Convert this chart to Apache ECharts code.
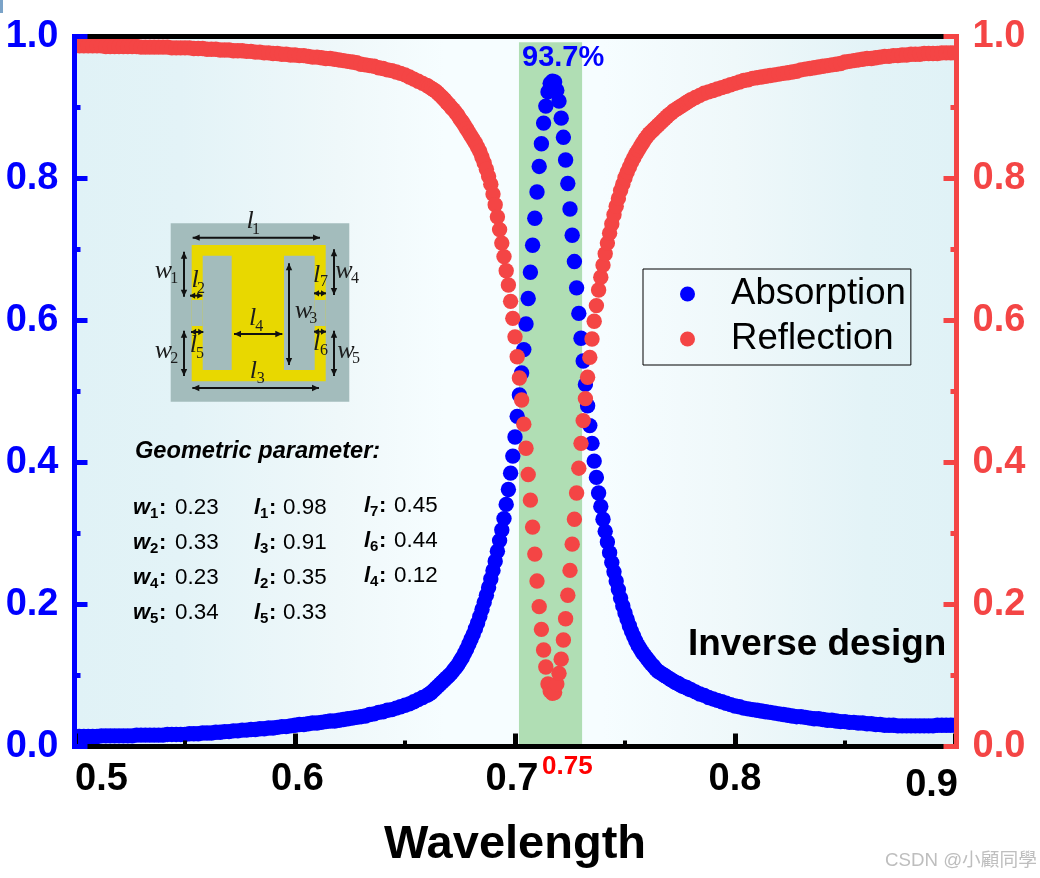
<!DOCTYPE html>
<html>
<head>
<meta charset="utf-8">
<title>Inverse design spectrum</title>
<script src="https://cdn.jsdelivr.net/npm/echarts@6/dist/echarts.min.js"></script>
<style>html,body{margin:0;padding:0;background:#fff}#c{width:1040px;height:878px}</style>
</head>
<body>
<div id="c"></div>
<script>
const wavelengths = [
0.500,0.502,0.504,0.506,0.508,0.510,0.512,0.514,0.516,0.518,
0.520,0.522,0.524,0.526,0.528,0.530,0.532,0.534,0.536,0.538,
0.540,0.542,0.544,0.546,0.548,0.550,0.552,0.554,0.556,0.558,
0.560,0.562,0.564,0.566,0.568,0.570,0.572,0.574,0.576,0.578,
0.580,0.582,0.584,0.586,0.588,0.590,0.592,0.594,0.596,0.598,
0.600,0.602,0.604,0.606,0.608,0.610,0.612,0.614,0.616,0.618,
0.620,0.622,0.624,0.626,0.628,0.630,0.632,0.634,0.636,0.638,
0.640,0.642,0.644,0.646,0.648,0.650,0.652,0.654,0.656,0.658,
0.660,0.661,0.662,0.663,0.664,0.665,0.666,0.667,0.668,0.669,
0.670,0.671,0.672,0.673,0.674,0.675,0.676,0.677,0.678,0.679,
0.680,0.681,0.682,0.683,0.684,0.685,0.686,0.687,0.688,0.689,
0.690,0.691,0.692,0.693,0.694,0.695,0.696,0.697,0.698,0.699,
0.700,0.701,0.702,0.703,0.704,0.705,0.706,0.707,0.708,0.709,
0.710,0.711,0.712,0.713,0.714,0.715,0.716,0.717,0.718,0.719,
0.720,0.721,0.722,0.723,0.724,0.725,0.726,0.727,0.728,0.729,
0.730,0.731,0.732,0.733,0.734,0.735,0.736,0.737,0.738,0.739,
0.740,0.741,0.742,0.743,0.744,0.745,0.746,0.747,0.748,0.749,
0.750,0.751,0.752,0.753,0.754,0.755,0.756,0.757,0.758,0.759,
0.760,0.761,0.762,0.763,0.764,0.765,0.766,0.767,0.768,0.769,
0.770,0.771,0.772,0.773,0.774,0.775,0.776,0.777,0.778,0.779,
0.780,0.782,0.784,0.786,0.788,0.790,0.792,0.794,0.796,0.798,
0.800,0.802,0.804,0.806,0.808,0.810,0.812,0.814,0.816,0.818,
0.820,0.822,0.824,0.826,0.828,0.830,0.832,0.834,0.836,0.838,
0.840,0.842,0.844,0.846,0.848,0.850,0.852,0.854,0.856,0.858,
0.860,0.862,0.864,0.866,0.868,0.870,0.872,0.874,0.876,0.878,
0.880,0.882,0.884,0.886,0.888,0.890,0.892,0.894,0.896,0.898,
0.900];

const absorption = [
.014,.014,.014,.014,.014,.014,.015,.015,.015,.015,
.015,.015,.015,.015,.016,.016,.016,.016,.016,.016,
.016,.017,.017,.017,.017,.017,.018,.018,.018,.019,
.019,.019,.020,.020,.021,.021,.022,.022,.023,.023,
.024,.024,.025,.025,.026,.026,.027,.028,.028,.029,
.030,.031,.031,.032,.033,.033,.034,.035,.036,.036,
.037,.038,.039,.040,.041,.042,.043,.045,.046,.048,
.049,.051,.052,.054,.056,.058,.060,.063,.066,.069,
.072,.074,.076,.079,.082,.085,.088,.091,.094,.097,
.100,.103,.107,.111,.115,.120,.125,.131,.137,.144,
.151,.158,.166,.174,.183,.193,.203,.213,.224,.236,
.248,.261,.275,.290,.305,.321,.341,.362,.385,.409,
.436,.465,.495,.526,.559,.595,.631,.668,.706,.744,
.781,.817,.849,.878,.902,.922,.934,.937,.936,.924,
.909,.885,.858,.826,.793,.757,.720,.683,.646,.610,
.575,.543,.510,.480,.452,.427,.402,.379,.357,.338,
.320,.303,.288,.273,.259,.246,.233,.221,.209,.198,
.188,.179,.170,.162,.155,.148,.142,.137,.132,.128,
.124,.120,.116,.113,.109,.106,.104,.102,.100,.098,
.096,.094,.092,.090,.089,.087,.085,.084,.083,.081,
.080,.077,.074,.072,.069,.067,.065,.063,.061,.059,
.057,.056,.054,.053,.052,.051,.050,.049,.048,.047,
.046,.045,.044,.043,.042,.042,.041,.040,.039,.039,
.038,.037,.037,.036,.035,.035,.034,.034,.033,.033,
.032,.032,.031,.031,.030,.030,.030,.029,.029,.029,
.029,.029,.029,.029,.029,.029,.030,.030,.030,.030,
.030];

const reflection = [
.987,.987,.987,.987,.987,.987,.987,.986,.986,.986,
.986,.986,.986,.986,.986,.985,.985,.985,.985,.985,
.985,.985,.984,.984,.984,.984,.984,.983,.983,.983,
.982,.982,.982,.981,.981,.981,.980,.980,.980,.979,
.979,.978,.978,.977,.977,.976,.976,.975,.975,.974,
.974,.973,.973,.972,.971,.971,.970,.969,.969,.968,
.967,.966,.965,.964,.963,.961,.960,.959,.958,.956,
.955,.953,.952,.950,.948,.946,.943,.940,.937,.934,
.931,.929,.927,.925,.923,.920,.917,.914,.911,.907,
.904,.900,.897,.893,.889,.884,.880,.875,.870,.865,
.860,.855,.850,.844,.838,.830,.822,.813,.803,.792,
.778,.763,.746,.728,.709,.690,.670,.650,.627,.603,
.577,.549,.519,.488,.454,.420,.383,.347,.309,.271,
.233,.197,.165,.136,.112,.088,.078,.075,.076,.088,
.103,.123,.150,.180,.213,.248,.285,.320,.357,.392,
.427,.459,.490,.520,.548,.574,.599,.621,.643,.661,
.678,.694,.709,.723,.736,.749,.761,.772,.783,.792,
.801,.809,.816,.823,.829,.835,.840,.845,.850,.855,
.859,.863,.866,.869,.872,.875,.878,.881,.884,.887,
.890,.892,.895,.897,.899,.901,.903,.905,.907,.909,
.911,.914,.917,.920,.922,.924,.926,.928,.930,.932,
.934,.936,.938,.939,.941,.942,.943,.944,.945,.946,
.947,.948,.949,.950,.951,.953,.954,.955,.956,.957,
.958,.959,.960,.961,.962,.964,.965,.966,.967,.968,
.969,.969,.970,.971,.972,.972,.973,.973,.974,.974,
.975,.975,.975,.976,.976,.976,.976,.977,.977,.977,
.977];

const bandRange = [0.7018, 0.7305];
const bandTop = 0.992;
const seriesNames = ['Absorption', 'Reflection'];
const paramHeading = 'Geometric parameter:';
const paramCol1 = [['w','1','0.23'],['w','2','0.33'],['w','4','0.23'],['w','5','0.34']];
const paramCol2 = [['l','1','0.98'],['l','3','0.91'],['l','2','0.35'],['l','5','0.33']];
const paramCol3 = [['l','7','0.45'],['l','6','0.44'],['l','4','0.12']];

const BLUE = '#0000FF', RED = '#F44545', SANS = '"Liberation Sans", Arial, sans-serif';
const SERIF = '"Liberation Serif", serif';
const Z = 20;

function T(x, y, text, size, opt) {
  opt = opt || {};
  return {type:'text', z:Z, x:x, y:y, silent:true, style:{
    text:text, fontSize:size, fontFamily:opt.family||SANS, fontWeight:opt.weight||'normal',
    fontStyle:opt.italic?'italic':'normal', fill:opt.color||'#000',
    align:opt.align||'left', verticalAlign:'middle'}};
}
function R(x, y, w, h, c) { return {type:'rect', z:Z, silent:true, shape:{x,y,width:w,height:h}, style:{fill:c}}; }
function zx(v){return 120+v/3;}
function zy(v){return 210+v/3;}
function arrow(x1,y1,x2,y2){
  x1=zx(x1);x2=zx(x2);y1=zy(y1);y2=zy(y2);
  const L=Math.hypot(x2-x1,y2-y1),ux=(x2-x1)/L,uy=(y2-y1)/L,h=Math.min(7,L/2.4),w=3.2;
  const tri=(px,py,dx,dy)=>({type:'polygon',z:Z,silent:true,shape:{points:[[px,py],[px-dx*h-dy*w,py-dy*h+dx*w],[px-dx*h+dy*w,py-dy*h-dx*w]]},style:{fill:'#111'}});
  return [
    {type:'line',z:Z,silent:true,shape:{x1,y1,x2,y2},style:{stroke:'#111',lineWidth:2}},
    tri(x2,y2,ux,uy), tri(x1,y1,-ux,-uy)
  ];
}
function sym(sym,sub,x,y,sx,sy){
  return [
    T(zx(x),zy(y),sym,26,{family:SERIF,italic:true,align:'center',color:'#1c1c1c'}),
    T(zx(sx),zy(sy),sub,16,{family:SERIF,align:'center',color:'#1c1c1c'})
  ];
}

const graphics = [].concat(
  [R(0,0,3,13,'#7BA3C8')],
  [T(522,58,'93.7%',29,{weight:'bold',color:BLUE}),
   T(542,767,'0.75',26,{weight:'bold',color:'#FF0000'}),
   T(688,645,'Inverse design',36.9,{weight:'bold'}),
   T(885,861,'CSDN @小顧同學',18.7,{family:'"Liberation Sans","Noto Sans CJK TC", sans-serif',color:'#BEBEBE'})],
  [R(170.7,223.3,178.6,178.4,'#A3BCBC'),
   R(191.7,245,134,136.3,'#E8D800'),
   R(202.7,255.7,29,114.3,'#A3BCBC'),
   R(284,255.7,30.7,114.3,'#A3BCBC'),
   R(191.7,300,11,26,'#A3BCBC'),
   R(314.7,300,11,26,'#A3BCBC')],
  arrow(218,83,600,83), arrow(192,125,192,260), arrow(192,362,192,498),
  arrow(642,118,642,255), arrow(642,362,642,498), arrow(507,160,507,465),
  arrow(210,257,247,257), arrow(582,250,618,250), arrow(213,366,250,366),
  arrow(582,365,618,365), arrow(342,372,487,372), arrow(217,534,597,534),
  sym('l','1',390,35,408,60), sym('w','1',130,185,163,207), sym('l','2',225,210,243,235),
  sym('l','7',590,197,612,215), sym('w','4',672,185,705,205), sym('w','3',550,305,580,325),
  sym('l','4',398,325,418,350), sym('w','2',130,425,163,447), sym('l','5',220,405,240,430),
  sym('l','6',590,400,612,422), sym('w','5',678,425,708,445), sym('l','3',400,485,422,507),
  [T(135,451,paramHeading,23.6,{weight:'bold',italic:true})]
);
function paramRows(rows, x, y0, valueX, subX, colonX){
  rows.forEach((r,i)=>{
    const y=y0+i*35;
    graphics.push(T(x,y,r[0],22,{weight:'bold',italic:true}));
    graphics.push(T(x+subX,y+6,r[1],15,{weight:'bold'}));
    graphics.push(T(x+colonX,y,':',22,{weight:'bold'}));
    graphics.push(T(valueX,y,r[2],22.4));
  });
}
paramRows(paramCol1,133,508,175,17,26);
paramRows(paramCol2,254,508,283,6,15);
paramRows(paramCol3,364,506,394,6,15);

const chart = echarts.init(document.getElementById('c'), null, {renderer:'canvas'});
const pts = ys => wavelengths.map((w,i)=>[w,ys[i]]);
const dot = color => (params, api) => {
  const c = api.coord([api.value(0), api.value(1)]);
  return {type:'circle', shape:{cx:c[0], cy:c[1], r:7.7}, style:{fill:color}};
};
const yCommon = (c, extra) => Object.assign({
  type:'value', min:0, max:1, interval:0.2, z:6,
  axisLine:{show:true,onZero:false,lineStyle:{color:c,width:5,cap:'square'}},
  axisTick:{show:true,inside:true,length:13,lineStyle:{color:c,width:5}},
  minorTick:{show:true,splitNumber:2,length:6,lineStyle:{color:c,width:5}},
  splitLine:{show:false}, minorSplitLine:{show:false},
  axisLabel:{color:c,fontSize:38,fontWeight:'bold',fontFamily:SANS,margin:16,formatter:v=>v.toFixed(1),showMinLabel:true,showMaxLabel:true}
}, extra);
chart.setOption({
  animation:false,
  backgroundColor:'#fff',
  grid:{left:75,right:85,top:36.5,bottom:131.5,show:true,borderWidth:0,
    backgroundColor:{type:'linear',x:0,y:0,x2:1,y2:0,colorStops:[
      {offset:0,color:'#E0F2F6'},{offset:0.12,color:'#E3F3F7'},{offset:0.3,color:'#EFF8FA'},
      {offset:0.42,color:'#F6FDFF'},{offset:0.6,color:'#F6FDFF'},{offset:0.75,color:'#EFF8FA'},
      {offset:0.9,color:'#E3F3F7'},{offset:1,color:'#E0F2F6'}]}},
  legend:{
    show:true, orient:'vertical', left:643, top:269,
    borderColor:'#000', borderWidth:1, padding:[4,5,5,37], itemGap:3,
    itemWidth:15, itemHeight:15, icon:'circle', backgroundColor:'transparent',
    align:'left',
    data:seriesNames,
    textStyle:{fontSize:36.6,fontFamily:SANS,color:'#000',padding:[6,0,0,31],lineHeight:36}
  },
  xAxis:[{
    type:'value', position:'bottom', min:0.5, max:0.9, interval:0.1, z:5,
    name:'Wavelength', nameLocation:'middle', nameGap:75,
    nameTextStyle:{fontSize:47,fontWeight:'bold',fontFamily:SANS,color:'#000'},
    axisLine:{show:true,onZero:false,lineStyle:{color:'#000',width:5}},
    axisTick:{show:true,inside:true,length:13,lineStyle:{color:'#000',width:5}},
    minorTick:{show:true,splitNumber:2,length:6,lineStyle:{color:'#000',width:4}},
    splitLine:{show:false},
    axisLabel:{
      margin:14, alignMinLabel:'left', alignMaxLabel:'right', showMinLabel:true, showMaxLabel:true,
      formatter:v=>{
        const s=v.toFixed(1);
        const k={'0.6':'r','0.7':'l','0.9':'low'}[s]||'std';
        return '{'+k+'|'+s+'}';
      },
      rich:{
        std:{fontSize:38,fontWeight:'bold',fontFamily:SANS,color:'#000'},
        r:{fontSize:38,fontWeight:'bold',fontFamily:SANS,color:'#000',padding:[0,0,0,5]},
        l:{fontSize:38,fontWeight:'bold',fontFamily:SANS,color:'#000',padding:[0,6,0,0]},
        low:{fontSize:38,fontWeight:'bold',fontFamily:SANS,color:'#000',padding:[6,-3,0,0]}
      }
    }
  },{
    type:'value', position:'top', min:0.5, max:0.9, z:5,
    axisLine:{show:true,onZero:false,lineStyle:{color:'#000',width:5}},
    axisTick:{show:false}, axisLabel:{show:false}, splitLine:{show:false}
  }],
  yAxis:[
    yCommon(BLUE,{position:'left',offset:0.5}),
    yCommon(RED,{position:'right',offset:1.5})
  ],
  series:[
    {name:seriesNames[0],type:'custom',renderItem:dot(BLUE),data:pts(absorption),
     encode:{x:0,y:1},clip:true,silent:true,itemStyle:{color:BLUE},z:2,
     markArea:{silent:true,itemStyle:{color:'#B0DEB4',opacity:1},
       data:[[{xAxis:bandRange[0],yAxis:0},{xAxis:bandRange[1],yAxis:bandTop}]]}},
    {name:seriesNames[1],type:'custom',renderItem:dot(RED),data:pts(reflection),
     encode:{x:0,y:1},clip:true,silent:true,itemStyle:{color:RED},z:3}
  ],
  graphic:{elements:graphics}
});
</script>
</body>
</html>
